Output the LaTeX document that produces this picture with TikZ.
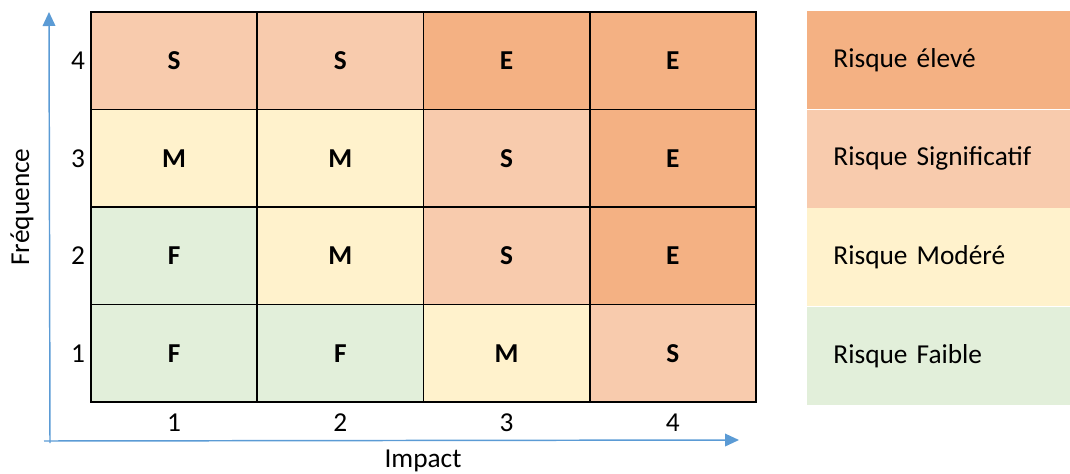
\documentclass[tikz,border=0pt]{standalone}
\usepackage{fontspec}
\setmainfont{Carlito}
\usetikzlibrary{arrows.meta,positioning}
\definecolor{eleve}{HTML}{F4B183}
\definecolor{signif}{HTML}{F8CBAD}
\definecolor{modere}{HTML}{FFF2CC}
\definecolor{faible}{HTML}{E2EFDA}
\definecolor{axe}{HTML}{5B9BD5}
\newcommand{\txtsize}{\fontsize{20.5}{24}\selectfont}
\tikzset{
  cell/.style={draw=black,line width=1.2pt,minimum width=124.7pt,minimum height=73.1pt,inner sep=0pt,font=\txtsize\bfseries},
  legend/.style={minimum width=197.3pt,minimum height=73.5pt,text width=158pt,inner xsep=19.6pt,inner ysep=0pt,align=left},
  axis/.style={draw=axe,line width=1.1pt,-{Triangle[length=10.5pt,width=9.5pt]}}
}
\begin{document}
\begin{tikzpicture}[x=0.75pt,y=-0.75pt,font=\txtsize]
\useasboundingbox (0,0) rectangle (1070,474);
\pgfmathsetmacro{\cw}{166.25}
\pgfmathsetmacro{\ch}{97.5}
%
% axes
\coordinate (ybot) at (50,443);
\coordinate (ytip) at (49,12);
\coordinate (xbeg) at (44,441);
\coordinate (xtip) at (739,440);
\draw[axis] (ybot) -- (ytip);
\draw[axis] (xbeg) -- (xtip);
%
% matrix
\foreach \c/\r/\t/\col in {1/1/F/faible,2/1/F/faible,3/1/M/modere,4/1/S/signif,
  1/2/F/faible,2/2/M/modere,3/2/S/signif,4/2/E/eleve,
  1/3/M/modere,2/3/M/modere,3/3/S/signif,4/3/E/eleve,
  1/4/S/signif,2/4/S/signif,3/4/E/eleve,4/4/E/eleve}
  \node[cell,fill=\col] (c\c\r) at ({91+\cw*(\c-0.5)},{402-\ch*(\r-0.5)}) {\t};
\foreach \r in {1,...,4}
  \node (f\r) at (78,{402-\ch*(\r-0.5)}) {\r};
\foreach \c in {1,...,4}
  \node (i\c) at ({91+\cw*(\c-0.5)},423) {\c};
\node (impact) at (423,461) {Impact};
\node[rotate=90] (freq) at (22,207) {Fréquence};
%
% legend
\node[legend,fill=eleve,anchor=north west] (leg1) at (807,11) {Risque élevé};
\node[legend,fill=signif,below=0pt of leg1] (leg2) {Risque Significatif};
\node[legend,fill=modere,below=0pt of leg2] (leg3) {Risque Modéré};
\node[legend,fill=faible,below=0pt of leg3] (leg4) {Risque Faible};
\end{tikzpicture}
\end{document}
